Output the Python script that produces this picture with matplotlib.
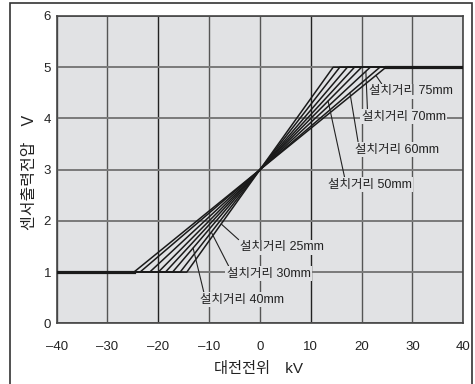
import matplotlib.pyplot as plt
from matplotlib.patches import Rectangle
import numpy as np

# 대전전위(kV) 에서 출력이 포화되는 지점 (선 8개, 기울기 큰 순서)
sat_kv = [14.4, 15.7, 17.2, 18.6, 20.0, 21.7, 23.6, 24.8]
v_low, v_mid, v_high = 1.0, 3.0, 5.0

labels = ['설치거리 25mm', '설치거리 30mm', '설치거리 40mm', '설치거리 50mm',
          '설치거리 60mm', '설치거리 70mm', '설치거리 75mm']
label_line = [0, 1, 2, 4, 6, 5, 7]
leader_y = [1.94, 1.78, 1.47, 4.34, 4.50, 4.92, 4.84]
text_xy = [(-3.9, 1.49), (-6.5, 0.97), (-11.8, 0.46), (13.4, 2.71),
           (18.7, 3.39), (20.0, 4.03), (21.5, 4.53)]
text_rel = [0.0, 0.03, 0.05, 0.2, 0.04, 0.07, 0.16]

xticks = [-40, -30, -20, -10, 0, 10, 20, 30, 40]
yticks = [0, 1, 2, 3, 4, 5, 6]

fonts = ['Liberation Sans', 'Noto Sans CJK KR']
plt.rcParams['font.family'] = fonts
plt.rcParams['axes.unicode_minus'] = True

fig = plt.figure(figsize=(4.75, 3.84), dpi=100)
ax = fig.add_axes([0.1193, 0.158, 0.856, 0.8004])
bg = '#e1e2e4'
ax.set_facecolor(bg)

ax.set_xlim(-40, 40)
ax.set_ylim(0, 6)
ax.set_xticks(xticks)
ax.set_yticks(yticks)
ax.set_xticklabels([f'{t}'.replace('-', '\u2013') for t in xticks])
ax.grid(True, color='#7a7a7a', lw=1.4, zorder=0)
for t, gl in zip(xticks, ax.xaxis.get_gridlines()):
    if t in (-20, 10):
        gl.set_color('#222222')
        gl.set_linewidth(1.0)
    else:
        gl.set_linewidth(1.0)
        gl.set_color('#555555')
ax.set_axisbelow(True)
ax.tick_params(length=0, labelsize=9.5, colors='#222222')
ax.tick_params(axis='x', pad=13)
ax.tick_params(axis='y', pad=4)
for sp in ax.spines.values():
    sp.set_color('#444444')
    sp.set_linewidth(1.2)

# 특성선
for s in sat_kv:
    ax.plot([-40, -s, s, 40], [v_low, v_low, v_high, v_high],
            color='#1a1a1a', lw=1.1, zorder=3)
ax.plot([-40, -max(sat_kv)], [v_low, v_low], color='#1a1a1a', lw=2.3, zorder=3)
ax.plot([max(sat_kv), 40], [v_high, v_high], color='#1a1a1a', lw=2.3, zorder=3)

for lab, li, ly, (tx, ty), rx in zip(labels, label_line, leader_y, text_xy, text_rel):
    s = sat_kv[li]
    px = s * (ly - v_mid) / (v_high - v_mid)
    ax.annotate(lab, xy=(px, ly), xytext=(tx, ty), ha='left', va='center',
                fontsize=9, color='#222222', zorder=5,
                bbox=dict(boxstyle='square,pad=0.12', fc=bg, ec='none'),
                arrowprops=dict(arrowstyle='-', color='#222222', lw=0.8,
                                relpos=(rx, 1.0), shrinkA=0, shrinkB=0))

ax.set_xlabel('대전전위\u3000kV', fontsize=11, color='#222222')
ax.set_ylabel('센서출력전압\u3000V', fontsize=11.5, color='#222222')
ax.xaxis.set_label_coords(0.497, -0.126)
ax.yaxis.set_label_coords(-0.048, 0.49)

# 바깥 테두리
fig.patches.append(Rectangle((10 / 475, -0.05), 462 / 475, 1.05 - 3 / 384,
                             transform=fig.transFigure, fill=False,
                             ec='#333333', lw=1.2))

fig.savefig('out.png', dpi=100)
